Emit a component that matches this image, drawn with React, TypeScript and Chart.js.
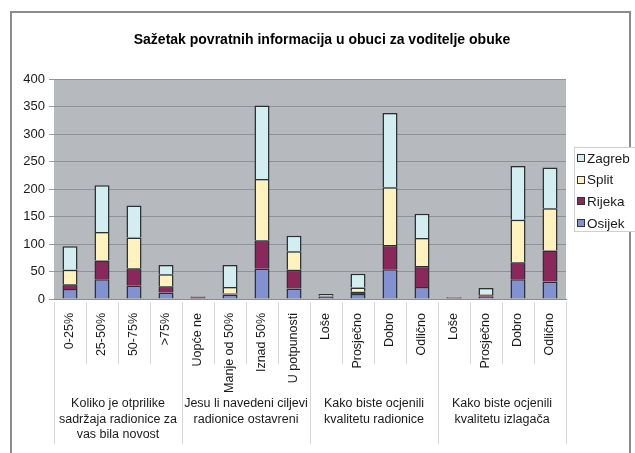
import React, { useEffect, useRef } from 'react';
import { Chart, registerables } from 'chart.js';

Chart.register(...registerables);

const title = 'Sažetak povratnih informacija u obuci za voditelje obuke';

const categories = [
  '0-25%', '25-50%', '50-75%', '>75%',
  'Uopće ne', 'Manje od 50%', 'Iznad 50%', 'U potpunosti',
  'Loše', 'Prosječno', 'Dobro', 'Odlično',
  'Loše', 'Prosječno', 'Dobro', 'Odlično',
];

const groupLabels = [
  ['Koliko je otprilike', 'sadržaja radionice za', 'vas bila novost'],
  ['Jesu li navedeni ciljevi', 'radionice ostavreni'],
  ['Kako biste ocjenili', 'kvalitetu radionice'],
  ['Kako biste ocjenili', 'kvalitetu izlagača'],
];
const groupSizes = [4, 4, 4, 4];

const osijek = [18, 36, 24, 12, 1, 8, 55, 19, 4, 9, 54, 22, 1, 4, 36, 32];
const rijeka = [9, 34, 32, 11, 2, 2, 52, 34, 1, 4, 44, 38, 1, 3, 31, 56];
const split = [26, 52, 56, 22, 1, 12, 111, 34, 1, 8, 105, 51, 0, 2, 77, 77];
const zagreb = [43, 85, 58, 17, 1, 40, 134, 28, 3, 25, 135, 44, 1, 11, 98, 74];

const seriesNames = ['Osijek', 'Rijeka', 'Split', 'Zagreb'];
const seriesValues = [osijek, rijeka, split, zagreb];
const seriesColors = ['#8191d2', '#8a285c', '#fff2bd', '#d2eef0'];

const yMax = 400;
const yStep = 50;

const FONT = 'Arial, "Liberation Sans", sans-serif';

export default function App() {
  const ref = useRef<HTMLCanvasElement>(null);

  useEffect(() => {
    if (!ref.current) return;

    const decor = {
      id: 'decor',
      beforeDraw(chart: any) {
        const ctx = chart.ctx;
        const a = chart.chartArea;
        ctx.save();
        ctx.fillStyle = '#ffffff';
        ctx.fillRect(0, 0, chart.width, chart.height);
        ctx.strokeStyle = '#8c8c8c';
        ctx.lineWidth = 2;
        ctx.strokeRect(11, 12, 619, 470);
        ctx.fillStyle = '#b6babe';
        ctx.fillRect(a.left, a.top, a.right - a.left, a.bottom - a.top);
        ctx.restore();
      },
      afterDraw(chart: any) {
        const ctx = chart.ctx;
        const a = chart.chartArea;
        const xs = chart.scales.x;
        const n = categories.length;
        const step = (a.right - a.left) / n;
        ctx.save();
        // separators
        ctx.strokeStyle = '#d6d6d6';
        ctx.lineWidth = 1;
        const boundaries = new Set<number>();
        let acc = 0;
        boundaries.add(0);
        groupSizes.forEach((g) => { acc += g; boundaries.add(acc); });
        for (let i = 0; i <= n; i++) {
          const x = Math.round(xs.getPixelForValue(Math.min(i, n - 1)) + (i === n ? step / 2 : -step / 2)) + 0.5;
          const isGroup = boundaries.has(i);
          ctx.beginPath();
          ctx.moveTo(x, a.bottom + 3);
          ctx.lineTo(x, isGroup ? 444 : 364);
          ctx.stroke();
        }
        // group labels
        ctx.fillStyle = '#1a1a1a';
        ctx.font = `12.5px ${FONT}`;
        ctx.textAlign = 'center';
        ctx.textBaseline = 'middle';
        let start = 0;
        groupSizes.forEach((g, gi) => {
          const x0 = xs.getPixelForValue(start) - step / 2;
          const x1 = xs.getPixelForValue(start + g - 1) + step / 2;
          const cx = (x0 + x1) / 2;
          groupLabels[gi].forEach((line, li) => {
            ctx.fillText(line, cx, 404 + li * 15.5);
          });
          start += g;
        });
        // title
        ctx.font = `bold 14px ${FONT}`;
        ctx.fillStyle = '#000';
        ctx.fillText(title, 322, 40);
        // legend
        ctx.fillStyle = '#ffffff';
        ctx.fillRect(574, 147, 70, 84);
        ctx.strokeStyle = '#cfcfcf';
        ctx.strokeRect(574.5, 147.5, 70, 84);
        ctx.font = `13.5px ${FONT}`;
        ctx.textAlign = 'left';
        for (let k = 0; k < 4; k++) {
          const si = 3 - k;
          const y = 158 + k * 21.7;
          ctx.fillStyle = seriesColors[si];
          ctx.fillRect(577.5, Math.round(y) - 3.5, 7, 7);
          ctx.strokeStyle = '#333';
          ctx.strokeRect(577.5, Math.round(y) - 3.5, 7, 7);
          ctx.fillStyle = '#1a1a1a';
          ctx.fillText(seriesNames[si], 587, y + 1);
        }
        ctx.restore();
      },
    };

    const chart = new Chart(ref.current, {
      type: 'bar',
      data: {
        labels: categories,
        datasets: seriesValues.map((vals, i) => ({
          label: seriesNames[i],
          data: vals,
          backgroundColor: seriesColors[i],
          borderColor: '#283232',
          borderWidth: 1.5,
          categoryPercentage: 1,
          barPercentage: 0.47,
        })),
      },
      options: {
        responsive: false,
        animation: false,
        devicePixelRatio: 1,
        layout: { padding: { top: 79, right: 69, left: 0, bottom: 0 } },
        plugins: {
          legend: { display: false },
          title: { display: false },
          tooltip: { enabled: false },
        },
        scales: {
          x: {
            stacked: true,
            grid: { display: false },
            border: { color: '#8a8d90' },
            ticks: {
              autoSkip: false,
              minRotation: 90,
              maxRotation: 90,
              padding: 6,
              color: '#1a1a1a',
              font: { family: FONT, size: 12.5 },
            },
            afterFit(s: any) { s.height = 154; },
          },
          y: {
            stacked: true,
            min: 0,
            max: yMax,
            ticks: {
              stepSize: yStep,
              padding: 4,
              color: '#1a1a1a',
              font: { family: FONT, size: 13 },
            },
            grid: { color: '#8f9397', tickLength: 5, tickColor: '#9a9a9a' },
            border: { display: false },
            afterFit(s: any) { s.width = 54; },
          },
        },
      },
      plugins: [decor],
    });

    return () => chart.destroy();
  }, []);

  return (
    <div style={{ position: 'absolute', left: 0, top: 0, width: 635, height: 453 }}>
      <canvas ref={ref} width={635} height={453} style={{ display: 'block' }} />
    </div>
  );
}
